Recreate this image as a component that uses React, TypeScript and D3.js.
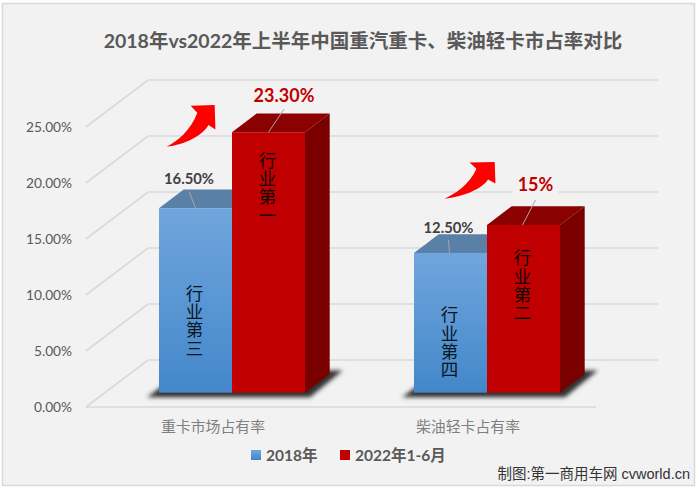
import * as d3 from 'd3';
import { useEffect, useRef } from 'react';

const categories = ['重卡市场占有率', '柴油轻卡占有率'];
const seriesNames = ['2018年', '2022年1-6月'];
const values2018 = [16.5, 12.5];
const values2022 = [23.3, 15];
const labels2018 = ['16.50%', '12.50%'];
const labels2022 = ['23.30%', '15%'];
const ranks2018 = ['行业第三', '行业第四'];
const ranks2022 = ['行业第一', '行业第二'];
const ticks = [0, 5, 10, 15, 20, 25];

const latin = 'Lato, "Noto Sans CJK SC", sans-serif';
const cjk = '"Noto Sans CJK SC", sans-serif';

const width = 699;
const height = 489;

// oblique offsets of the 3d box
const wallDx = 62;
const wallDy = 47;
const barDx = 24.7;
const barDy = 18.7;
const floorDx = 18.5;
const barW = 73;

export default function App() {
  const ref = useRef<SVGSVGElement>(null);

  useEffect(() => {
    const svg = d3.select(ref.current);
    svg.selectAll('*').remove();

    const front = d3.scaleLinear().domain([0, 25]).range([407, 127]);
    const bars = d3.scaleLinear().domain([0, 25]).range([392.7, 113.2]);
    const x = d3.scaleBand<string>().domain(categories).range([86, 596]);

    const defs = svg.append('defs');
    const grad = defs
      .append('linearGradient')
      .attr('id', 'blue')
      .attr('x1', 0)
      .attr('y1', 0)
      .attr('x2', 0)
      .attr('y2', 1);
    grad.append('stop').attr('offset', 0).attr('stop-color', '#70a6dd');
    grad.append('stop').attr('offset', 1).attr('stop-color', '#4387ca');
    defs
      .append('filter')
      .attr('id', 'soft')
      .attr('x', '-20%')
      .attr('y', '-50%')
      .attr('width', '140%')
      .attr('height', '200%')
      .append('feGaussianBlur')
      .attr('stdDeviation', 1.9);

    svg
      .append('rect')
      .attr('x', 2.5)
      .attr('y', 3.5)
      .attr('width', 692)
      .attr('height', 482)
      .attr('fill', '#f2f2f2')
      .attr('stroke', '#d9d9d9')
      .attr('stroke-width', 1.5);

    svg
      .append('text')
      .attr('x', 363)
      .attr('y', 48)
      .attr('text-anchor', 'middle')
      .attr('font-family', latin)
      .attr('font-size', 19.5)
      .attr('font-weight', 700)
      .attr('fill', '#595959')
      .text('2018年vs2022年上半年中国重汽重卡、柴油轻卡市占率对比');

    // walls
    const grid = svg
      .append('g')
      .attr('fill', 'none')
      .attr('stroke', '#d9d9d9')
      .attr('stroke-width', 1.6);
    ticks.forEach((t) => {
      const y = front(t);
      grid
        .append('path')
        .attr('d', `M86,${y}L${86 + wallDx},${y - wallDy}H${596 + wallDx}`);
    });
    grid.append('path').attr('d', 'M86,407H596');

    svg
      .append('g')
      .selectAll('text')
      .data(ticks)
      .join('text')
      .attr('x', 72)
      .attr('y', (d) => front(d) + 5)
      .attr('text-anchor', 'end')
      .attr('font-family', latin)
      .attr('font-size', 13.7)
      .attr('fill', '#595959')
      .text((d) => d.toFixed(2) + '%');

    categories.forEach((c, i) => {
      const band = x(c) ?? 0;
      const mid = band + x.bandwidth() / 2;
      const left = mid + floorDx - barW;
      const base = bars(0);

      // floor shadow
      svg
        .append('path')
        .attr(
          'd',
          `M${left - 12},${base + 4.5}H${left + 2 * barW + 5}L${left + 2 * barW + barDx + 13},${base - barDy - 3.5}H${left + barDx}Z`
        )
        .attr('fill', '#333333')
        .attr('filter', 'url(#soft)');

      // 2018 box
      const topA = bars(values2018[i]);
      svg
        .append('path')
        .attr(
          'd',
          `M${left},${topA}l${barDx},${-barDy}H${left + barW + barDx}L${left + barW},${topA}Z`
        )
        .attr('fill', '#5b80a8');
      svg
        .append('rect')
        .attr('x', left)
        .attr('y', topA)
        .attr('width', barW)
        .attr('height', base - topA)
        .attr('fill', 'url(#blue)');

      // 2022 box
      const l2 = left + barW;
      const topB = bars(values2022[i]);
      svg
        .append('path')
        .attr('d', `M${l2},${topB}l${barDx},${-barDy}h${barW}l${-barDx},${barDy}Z`)
        .attr('fill', '#8b0000');
      svg
        .append('path')
        .attr(
          'd',
          `M${l2 + barW},${topB}l${barDx},${-barDy}V${base - barDy}L${l2 + barW},${base}Z`
        )
        .attr('fill', '#7a0000');
      svg
        .append('rect')
        .attr('x', l2)
        .attr('y', topB)
        .attr('width', barW)
        .attr('height', base - topB)
        .attr('fill', '#c00000');
    });

    const addLabel = (
      cx: number,
      top: number,
      text: string,
      tx: number,
      ty: number,
      size: number,
      colour: string,
      boxW: number,
      lx: number,
      ly: number
    ) => {
      if (boxW > 0) {
        svg
          .append('rect')
          .attr('x', cx + tx - boxW / 2)
          .attr('y', top + ty - 14)
          .attr('width', boxW)
          .attr('height', 28)
          .attr('fill', '#f2f2f2');
      }
      svg
        .append('line')
        .attr('x1', cx + lx)
        .attr('y1', top)
        .attr('x2', cx + tx)
        .attr('y2', top + ly)
        .attr('stroke', '#a6a6a6')
        .attr('stroke-width', 1);
      svg
        .append('text')
        .attr('x', cx + tx)
        .attr('y', top + ty)
        .attr('dy', '0.36em')
        .attr('text-anchor', 'middle')
        .attr('font-family', latin)
        .attr('font-size', size)
        .attr('font-weight', 700)
        .attr('fill', colour)
        .text(text);
    };

    const rankOffsets2018 = [76, 53];
    const rankOffsets2022 = [19, 24];
    const addRank = (cx: number, top: number, text: string, colour: string) => {
      svg
        .append('text')
        .attr('x', cx)
        .attr('y', top)
        .attr('writing-mode', 'vertical-rl')
        .attr('text-orientation', 'upright')
        .attr('letter-spacing', 0.8)
        .attr('font-family', cjk)
        .attr('font-size', 17.5)
        .attr('font-weight', 400)
        .attr('fill', colour)
        .text(text);
    };

    categories.forEach((c, i) => {
      const mid = (x(c) ?? 0) + x.bandwidth() / 2 + floorDx;
      const cxA = mid - barW / 2;
      const cxB = mid + barW / 2;
      const topA = bars(values2018[i]);
      const topB = bars(values2022[i]);
      addRank(cxA - 1, topA + rankOffsets2018[i], ranks2018[i], '#0a1622');
      addRank(cxB - 1, topB + rankOffsets2022[i], ranks2022[i], '#120000');
      if (i === 0) {
        addLabel(cxA, topA, labels2018[i], -6.5, -30, 14.8, '#404040', 0, 0, -17);
        addLabel(cxB, topB, labels2022[i], 15.5, -37, 18, '#c00000', 72, 0, -23);
      } else {
        addLabel(cxA, topA, labels2018[i], -2, -25, 14.8, '#404040', 0, -1, -13);
        addLabel(cxB, topB, labels2022[i], 12, -40, 18, '#c00000', 46, -1, -25);
      }
    });

    // growth arrows
    const arrow = (px: number, py: number, sx: number, sy: number) => {
      svg
        .append('path')
        .attr('transform', `translate(${px},${py}) scale(${sx},${sy})`)
        .attr(
          'd',
          'M0,0C10,-5 24,-16 30.6,-34L24,-41L48,-41.7L48.7,-17.3L41.7,-21.7C36,-11 18,-2 0,0Z'
        )
        .attr('fill', '#ff0000');
    };
    arrow(166.7, 146.7, 1, 1);
    arrow(444.3, 198.7, 1.05, 0.88);

    svg
      .append('g')
      .selectAll('text')
      .data(categories)
      .join('text')
      .attr('x', (d) => (x(d) ?? 0) + x.bandwidth() / 2 - 0.5)
      .attr('y', 432)
      .attr('text-anchor', 'middle')
      .attr('font-family', cjk)
      .attr('font-size', 14.9)
      .attr('fill', '#7f7f7f')
      .text((d) => d);

    // legend
    const legendX = [251, 340];
    const legendFill = ['url(#blue)', '#c00000'];
    seriesNames.forEach((name, i) => {
      svg
        .append('rect')
        .attr('x', legendX[i])
        .attr('y', 450)
        .attr('width', 10)
        .attr('height', 10)
        .attr('fill', legendFill[i]);
      svg
        .append('text')
        .attr('x', legendX[i] + 15)
        .attr('y', 460.5)
        .attr('font-family', latin)
        .attr('font-size', 15.5)
        .attr('font-weight', 700)
        .attr('fill', '#595959')
        .text(name);
    });

    svg
      .append('text')
      .attr('x', 690)
      .attr('y', 479)
      .attr('text-anchor', 'end')
      .attr('font-family', '"Liberation Sans", "Noto Sans CJK SC", sans-serif')
      .attr('font-size', 14.5)
      .attr('fill', '#333333')
      .text('制图:第一商用车网 cvworld.cn');
  }, []);

  return (
    <svg
      ref={ref}
      width={width}
      height={height}
      style={{ position: 'absolute', left: 0, top: 0, background: '#fff' }}
    />
  );
}
